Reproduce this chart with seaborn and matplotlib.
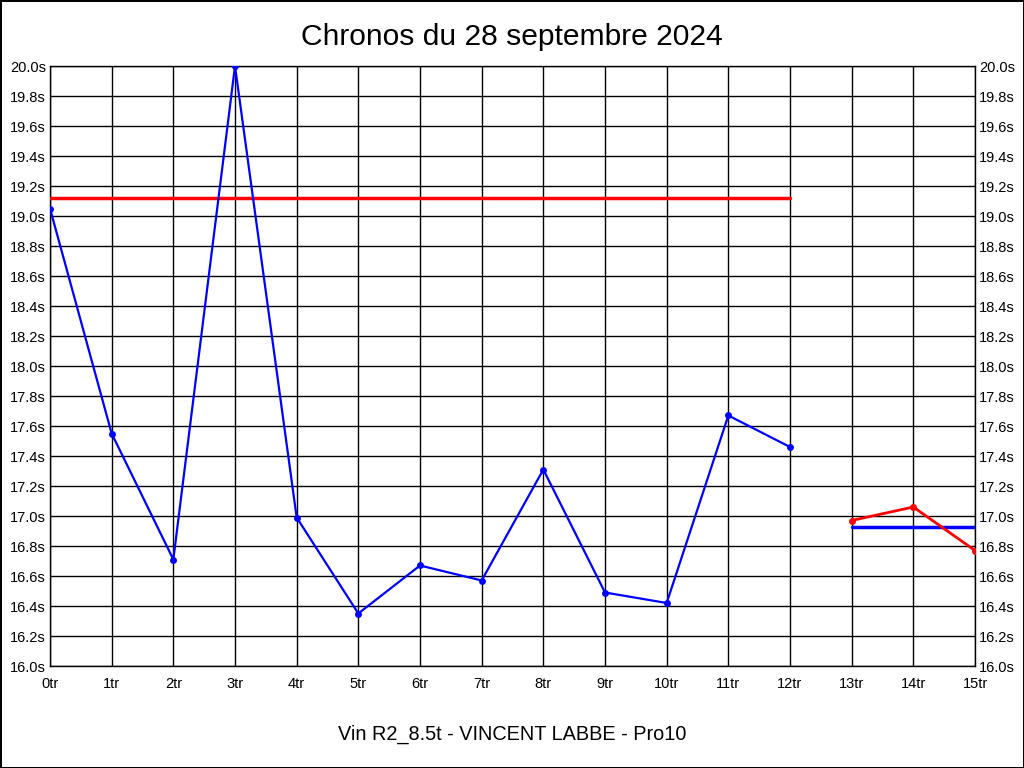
import numpy as np
import pandas as pd
import matplotlib
matplotlib.use("Agg")
import matplotlib.pyplot as plt
import seaborn as sns

# ==========================================
# DATA
# ==========================================

tours_a = list(range(0, 13))
chronos_a = [19.05, 17.55, 16.71, 20.00, 16.99, 16.35, 16.67,
             16.57, 17.31, 16.49, 16.42, 17.67, 17.46]

tours_b = [13, 14, 15]
chronos_b = [16.97, 17.06, 16.77]

ref_a_x = [0, 12]
ref_a_y = [19.12, 19.12]

ref_b_x = [13, 15]
ref_b_y = [16.93, 16.93]

x_ticks = list(range(0, 16))
x_labels = [f"{t}tr" for t in x_ticks]
y_ticks = [round(16.0 + 0.2 * i, 1) for i in range(21)]
y_labels = [f"{v:.1f}s" for v in y_ticks]

title = "Chronos du 28 septembre 2024"
subtitle = "Vin R2_8.5t - VINCENT LABBE - Pro10"

# ==========================================
# PLOT
# ==========================================

sns.set_style("white")
plt.rcParams["font.family"] = ["Liberation Sans", "DejaVu Sans"]
plt.rcParams["text.color"] = "black"
plt.rcParams["xtick.color"] = "black"
plt.rcParams["ytick.color"] = "black"

fig = plt.figure(figsize=(10.24, 7.68), dpi=100,
                 edgecolor="black", linewidth=2)
ax = fig.add_axes([50 / 1024, (768 - 666) / 768,
                   925 / 1024, 600 / 768])

df_a = pd.DataFrame({"tour": tours_a, "chrono": chronos_a})
df_b = pd.DataFrame({"tour": tours_b, "chrono": chronos_b})

sns.lineplot(data=df_a, x="tour", y="chrono", ax=ax, color="#0000ff",
             linewidth=1.6, marker="o", markersize=5,
             markeredgewidth=0, zorder=4)
sns.lineplot(data=df_b, x="tour", y="chrono", ax=ax, color="#ff0000",
             linewidth=2, marker="o", markersize=5,
             markeredgewidth=0, zorder=4)
sns.lineplot(x=ref_a_x, y=ref_a_y, ax=ax, color="#ff0000",
             linewidth=2.5, zorder=3)
sns.lineplot(x=ref_b_x, y=ref_b_y, ax=ax, color="#0000ff",
             linewidth=2.5, zorder=3)

ax.set_xlim(0, 15)
ax.set_ylim(16.0, 20.0)
ax.set_xticks(x_ticks)
ax.set_xticklabels(x_labels, fontsize=10.5)
ax.set_yticks(y_ticks)
ax.set_yticklabels(y_labels, fontsize=10.5)
ax.tick_params(axis="x", length=0, pad=8)
ax.tick_params(axis="y", length=0, pad=3, labelright=True)
ax.set_xlabel("")
ax.set_ylabel("")
ax.grid(True, color="black", linewidth=1)
ax.set_axisbelow(True)

for sp in ax.spines.values():
    sp.set_color("black")
    sp.set_linewidth(1)

fig.text(0.5, 1 - 37 / 768, title, ha="center", va="center", fontsize=21.6)
fig.text(0.5, 1 - 734 / 768, subtitle, ha="center", va="center", fontsize=14.3)

fig.savefig("out.png", dpi=100, edgecolor=fig.get_edgecolor())
